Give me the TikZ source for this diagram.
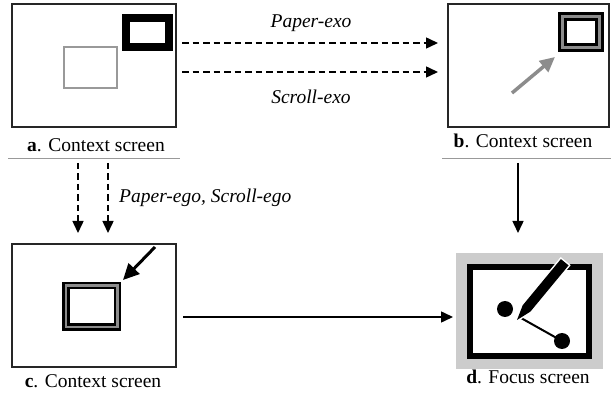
\documentclass[tikz,border=0pt]{standalone}
\usepackage{fontspec}
\setmainfont{Liberation Serif}
\usetikzlibrary{arrows.meta,calc}
\begin{document}
\begin{tikzpicture}[x=1pt,y=-1pt,
  screen/.style={draw=black!85, line width=1.3pt, fill=white, inner sep=0pt, outer sep=0pt},
  lbl/.style={font=\fontsize{19.5}{23}\selectfont, inner sep=0pt, anchor=base},
  itl/.style={font=\fontsize{19.5}{23}\selectfont\itshape, inner sep=0pt, anchor=base},
  sep/.style={draw=black!40, line width=1pt},
  dasharr/.style={line width=1.5pt, dash pattern=on 6.5pt off 4pt, -{Triangle[length=12pt,width=11pt]}},
  solarr/.style={line width=1.5pt, -{Triangle[length=12pt,width=11pt]}},
  bigarr/.style={line width=3pt, -{Triangle[length=16pt,width=15pt]}}
]
\useasboundingbox (0,0) rectangle (611,398);

% panel a
\node[screen, minimum width=164pt, minimum height=123pt] (a) at (94,65.5) {};
\draw[black!40, line width=1.6pt] (64,47) rectangle (117,88);
\draw[black, line width=8pt] (126,18) rectangle (168.5,47.5);
\node[lbl] (la) at (96,152) {\textbf{a}. Context screen};
\draw[sep] (8,159) -- (180,159);

% panel b
\node[screen, minimum width=161pt, minimum height=123pt] (b) at (528.5,65.5) {};
\draw[black, line width=9pt] (562,16.5) rectangle (599.5,47.5);
\draw[black!45, line width=3pt] (562,16.5) rectangle (599.5,47.5);
\draw[black!45, line width=3.5pt, -{Triangle[length=15pt,width=14pt]}] (512,93) -- (555,57);
\node[lbl] (lb) at (523,148) {\textbf{b}. Context screen};
\draw[sep] (442,159) -- (611,159);

% panel c
\node[screen, minimum width=164pt, minimum height=123pt] (c) at (94,305.5) {};
\draw[black, line width=7.5pt] (65.75,285.75) rectangle (117.25,327.25);
\draw[black!45, line width=2.5pt] (65.75,285.75) rectangle (117.25,327.25);
\draw[bigarr] (155,247) -- (123,280);
\node[lbl] (lc) at (93,387) {\textbf{c}. Context screen};

% panel d
\node[fill=black!20, inner sep=0pt, outer sep=0pt, minimum width=147pt, minimum height=116pt] (d) at (529.5,311) {};
\draw[black, line width=6pt, fill=white] (470,267) rectangle (589,356);
\fill[black] (505,309) circle (8);
\fill[black] (562,341) circle (8);
\draw[black, line width=2pt] (521,318) -- (562,341);
\draw[white, line width=3pt, line join=miter, fill=black]
  (517,320) -- (530.4,311.6) -- (568.6,265.4) -- (560.9,259.1) -- (522.7,305.3) -- cycle;
\fill[black] (517,320) -- (530.4,311.6) -- (568.6,265.4) -- (560.9,259.1) -- (522.7,305.3) -- cycle;
\node[lbl] (ld) at (528,383) {\textbf{d}. Focus screen};

% connector labels
\node[itl] (pexo) at (311,28) {Paper-exo};
\node[itl] (sexo) at (311,104) {Scroll-exo};
\node[itl, anchor=base west] (ego) at (119,203) {Paper-ego, Scroll-ego};

% connectors
\draw[dasharr] ($(a.east)+(6,-22.5)$) -- ($(b.west)+(-10,-22.5)$);
\draw[dasharr] ($(a.east)+(6,6.5)$) -- ($(b.west)+(-10,6.5)$);
\draw[dasharr] ($(a.south)+(-16,36)$) -- ($(c.north)+(-16,-11)$);
\draw[dasharr] ($(a.south)+(14,36)$) -- ($(c.north)+(14,-11)$);
\draw[solarr] ($(b.south)+(-10.5,36)$) -- ($(d.north)+(-11.5,-20)$);
\draw[solarr] ($(c.east)+(7,11.5)$) -- ($(d.west)+(-3,6)$);
\end{tikzpicture}
\end{document}
